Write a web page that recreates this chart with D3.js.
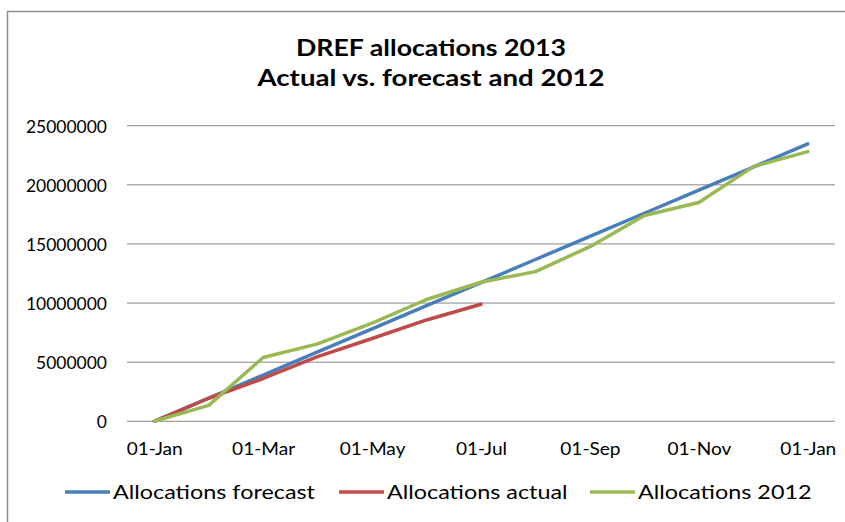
<!DOCTYPE html>
<html>
<head>
<meta charset="utf-8">
<script src="https://cdn.jsdelivr.net/npm/d3@7"></script>
<style>
  body { margin: 0; background: #fff; }
  text { font-family: Lato, "Open Sans", sans-serif; fill: #000; }
</style>
</head>
<body>
<div id="chart"></div>
<script>
  // month categories (2013), one label every 2 months on the axis
  const months = ["01-Jan","01-Feb","01-Mar","01-Apr","01-May","01-Jun","01-Jul",
                  "01-Aug","01-Sep","01-Oct","01-Nov","01-Dec","01-Jan"]

  const forecast = [0, 1955000, 3910000, 5865000, 7820000, 9775000, 11730000,
                    13685000, 15640000, 17595000, 19550000, 21505000, 23460000]
  const actual = [0, 1950000, 3620000, 5470000, 7000000, 8570000, 9900000]
  const prev2012 = [0, 1350000, 5400000, 6550000, 8300000, 10300000, 11760000,
                    12660000, 14770000, 17400000, 18500000, 21540000, 22810000]

  const yTicks = [0, 5000000, 10000000, 15000000, 20000000, 25000000]

  const seriesNames = ["Allocations forecast", "Allocations actual", "Allocations 2012"]
  const colors = ["#4a7ebb", "#be4b48", "#98b954"]

  const width = 845
  const height = 522
  const margin = { top: 125.7, right: 10, bottom: 100.7, left: 127 }

  const svg = d3.select("#chart")
    .append("svg")
    .attr("width", width)
    .attr("height", height)

  // the original text is a bit wider than Lato, stretch each group of labels
  // so the first one has the measured width
  function stretch(sel, target) {
    const k = target / sel.node().getComputedTextLength()
    sel.each(function() {
      d3.select(this)
        .attr("textLength", this.getComputedTextLength() * k)
        .attr("lengthAdjust", "spacingAndGlyphs")
    })
  }

  // chart area border (runs off the right and bottom edge)
  svg.append("rect")
    .attr("x", 7.5).attr("y", 11.5)
    .attr("width", width).attr("height", height)
    .attr("fill", "none")
    .attr("stroke", "#8e8e8e")
    .attr("stroke-width", 1.5)

  function titleLine(txt, yPos, w) {
    const t = svg.append("text")
      .attr("x", 431)
      .attr("y", yPos)
      .attr("text-anchor", "middle")
      .attr("font-weight", "bold")
      .attr("font-size", "23.5px")
      .text(txt)
    stretch(t, w)
  }
  titleLine("DREF allocations 2013", 56, 270)
  titleLine("Actual vs. forecast and 2012", 86, 347)

  const x = d3.scalePoint()
    .domain(d3.range(months.length))
    .range([margin.left, width - margin.right])
    .padding(0.5)

  const y = d3.scaleLinear()
    .domain([0, 25000000])
    .range([height - margin.bottom, margin.top])

  // gridlines
  svg.append("g")
    .selectAll("line")
    .data(yTicks)
    .join("line")
      .attr("x1", margin.left)
      .attr("x2", width - margin.right)
      .attr("y1", d => y(d))
      .attr("y2", d => y(d))
      .attr("stroke", "#878787")
      .attr("stroke-width", 1)

  function yAxis(g) {
    g.attr("transform", `translate(${margin.left - 20}, 0)`)
      .call(d3.axisLeft(y).tickValues(yTicks.slice().reverse()).tickFormat(d3.format("d")).tickSize(0).tickPadding(0))
      .attr("font-size", "17.5px")
      .attr("font-family", null)
    g.select(".domain").remove()
    g.selectAll("text").attr("dy", "0.36em")
    stretch(g.selectAll("text"), 81)
  }

  function xAxis(g) {
    g.attr("transform", `translate(0,${y(0)})`)
      .call(d3.axisBottom(x)
        .tickValues(d3.range(0, months.length, 2))
        .tickFormat(i => months[i])
        .tickSize(0).tickPadding(0))
      .attr("font-size", "17.5px")
      .attr("font-family", null)
    g.select(".domain").remove()
    g.selectAll("text").attr("dy", null).attr("y", 34)
    stretch(g.selectAll("text"), 56)
  }

  svg.append("g").call(yAxis)
  svg.append("g").call(xAxis)

  const line = d3.line()
    .x((d, i) => x(i))
    .y(d => y(d))

  const allSeries = [forecast, actual, prev2012]
  svg.append("g")
    .selectAll("path")
    .data(allSeries)
    .join("path")
      .attr("d", d => line(d))
      .attr("fill", "none")
      .attr("stroke", (d, i) => colors[i])
      .attr("stroke-width", 3.5)
      .attr("stroke-linejoin", "round")
      .attr("stroke-linecap", "round")

  // legend
  const legendX = [65, 339, 590]
  const legend = svg.append("g")
    .selectAll("g")
    .data(seriesNames)
    .join("g")
      .attr("transform", (d, i) => `translate(${legendX[i]}, 492)`)
  legend.append("line")
    .attr("x1", 0).attr("x2", 45)
    .attr("stroke", (d, i) => colors[i])
    .attr("stroke-width", 3.5)
  const legendText = legend.append("text")
    .attr("x", 48)
    .attr("y", 0)
    .attr("dy", "0.36em")
    .attr("font-size", "19px")
    .text(d => d)
  stretch(legendText, 202)
</script>
</body>
</html>
